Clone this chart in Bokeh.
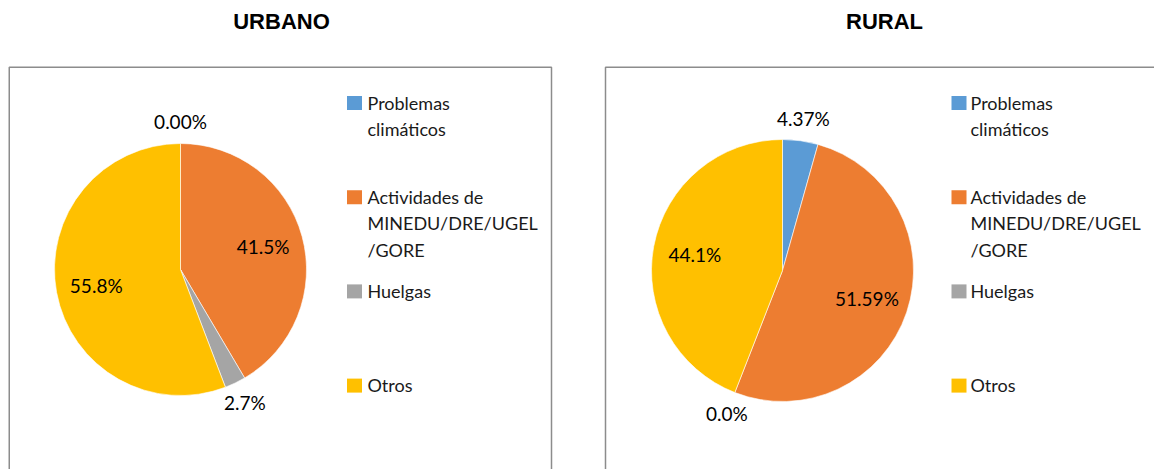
import math
from bokeh.plotting import figure
from bokeh.models import Range1d
from bokeh.core.properties import value
from bokeh.embed import file_html
from bokeh.resources import INLINE

# ---------------- data ----------------
categories = ["Problemas climáticos", "Actividades de MINEDU/DRE/UGEL/GORE", "Huelgas", "Otros"]
legend_lines = [["Problemas", "climáticos"],
                ["Actividades de", "MINEDU/DRE/UGEL", "/GORE"],
                ["Huelgas"],
                ["Otros"]]
colors = ["#5B9BD5", "#ED7D31", "#A5A5A5", "#FFC000"]

titles = ["URBANO", "RURAL"]
urbano_values = [0.0, 41.5, 2.7, 55.8]
urbano_labels = ["0.00%", "41.5%", "2.7%", "55.8%"]
rural_values = [4.37, 51.59, 0.0, 44.1]
rural_labels = ["4.37%", "51.59%", "0.0%", "44.1%"]

# ---------------- layout ----------------
W, H = 1154, 469


def X(px):
    return px


def Y(py):
    return H - py


panels = [
    dict(title=titles[0], values=urbano_values, labels=urbano_labels,
         title_x=281, box_l=8.75, box_r=551, box_t=66.75,
         cx=180, cy=269, r=126, sq_x=354, tx=367, leg_y=102),
    dict(title=titles[1], values=rural_values, labels=rural_labels,
         title_x=884, box_l=605, box_r=1250, box_t=66.75,
         cx=782, cy=270, r=131, sq_x=958.5, tx=970, leg_y=102),
]

FONT = value("Lato")
TITLE_FONT = value("'Liberation Sans Narrow', 'Arial Narrow', 'Liberation Sans'")

p = figure(width=W, height=H, output_backend="svg", toolbar_location=None,
           x_range=Range1d(0, W), y_range=Range1d(0, H),
           x_axis_type=None, y_axis_type=None, min_border=0)
p.outline_line_color = None
p.background_fill_color = "white"
p.border_fill_color = "white"

for pn in panels:
    # frame box
    p.quad(left=X(pn["box_l"]), right=X(pn["box_r"]), top=Y(pn["box_t"]), bottom=Y(600),
           fill_color=None, line_color="#8C8C8C", line_width=1.5)
    # title
    p.text(x=[X(pn["title_x"])], y=[Y(21)], text=[pn["title"]], text_font=TITLE_FONT,
           text_font_size="22px", text_font_style="bold", text_align="center",
           text_baseline="middle", text_color="#000000")

    vals = pn["values"]
    total = sum(vals)
    cx, cy, r = X(pn["cx"]), Y(pn["cy"]), pn["r"]
    cum = 0.0
    starts, ends, lx, ly = [], [], [], []
    for v in vals:
        f0 = cum / total
        cum += v
        f1 = cum / total
        # clockwise from 12 o'clock
        starts.append(math.pi / 2 - 2 * math.pi * f1)
        ends.append(math.pi / 2 - 2 * math.pi * f0)
        fm = (f0 + f1) / 2
        th = math.pi / 2 - 2 * math.pi * fm
        d = r + 22 if v < 5 else 0.68 * r
        lx.append(cx + d * math.cos(th))
        ly.append(cy + d * math.sin(th))

    nz = [i for i, v in enumerate(vals) if v > 0]
    p.wedge(x=cx, y=cy, radius=r,
            start_angle=[starts[i] for i in nz], end_angle=[ends[i] for i in nz],
            direction="anticlock", fill_color=[colors[i] for i in nz],
            line_color="white", line_width=0.6)

    p.text(x=lx, y=ly, text=pn["labels"], text_font=FONT, text_font_size="19px",
           text_align="center", text_baseline="middle", text_color="#000000")

    # legend
    row_pitch = 94.2
    line_step = 26.5
    for i, lines in enumerate(legend_lines):
        y0 = pn["leg_y"] + i * row_pitch
        p.rect(x=[X(pn["sq_x"])], y=[Y(y0 + 0.5)], width=15, height=14,
               fill_color=colors[i], line_color=None)
        p.text(x=[X(pn["tx"])] * len(lines),
               y=[Y(y0 + k * line_step) for k in range(len(lines))],
               text=lines, text_font=FONT, text_font_size="18px",
               text_align="left", text_baseline="middle", text_color="#1A1A1A")

open("out.html", "w").write(file_html(p, INLINE))
